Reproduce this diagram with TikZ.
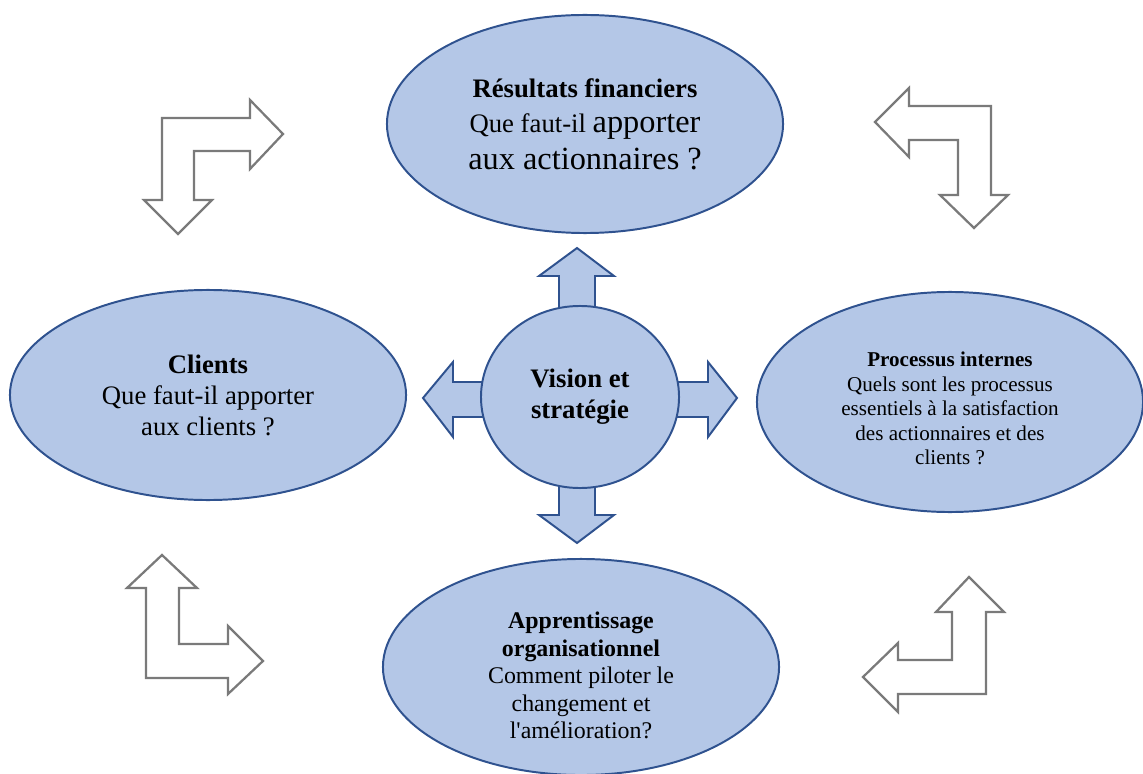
\documentclass[tikz,border=0pt]{standalone}
\usepackage{fontspec}
\setmainfont{Liberation Serif}
\usetikzlibrary{shapes.geometric}
\definecolor{bubblefill}{HTML}{B4C7E7}
\definecolor{bubbleline}{HTML}{2F528F}
\definecolor{loopgray}{HTML}{7A7A7A}
\tikzset{
  bubble/.style={ellipse, draw=bubbleline, fill=bubblefill, line width=1.4pt, inner sep=0pt, align=center, text=black},
  blockarrow/.style={draw=bubbleline, fill=bubblefill, line width=1.4pt, line join=miter},
  bentarrow/.style={draw=loopgray, fill=white, line width=1.6pt, line join=miter},
  big/.style={font=\fontsize{19}{22}\selectfont},
  small/.style={font=\fontsize{15}{17.4}\selectfont},
  mid/.style={font=\fontsize{17}{19.5}\selectfont},
}

\begin{document}
\begin{tikzpicture}[x=0.025cm,y=-0.025cm]
  \useasboundingbox (0,0) rectangle (1143,774);

  % block arrows behind the centre
  \draw[blockarrow] (559,310) -- (559,276) -- (539,276) -- (577,248) -- (614,276) -- (595,276) -- (595,310) -- cycle;
  \draw[blockarrow] (559,480) -- (559,515) -- (539,515) -- (577,543) -- (614,515) -- (595,515) -- (595,480) -- cycle;
  \draw[blockarrow] (490,382) -- (453,382) -- (453,362) -- (423,398) -- (453,437) -- (453,417) -- (490,417) -- cycle;
  \draw[blockarrow] (670,382) -- (708,382) -- (708,362) -- (737,398) -- (708,437) -- (708,417) -- (670,417) -- cycle;

  \node[bubble, big, minimum width=4.95cm, minimum height=4.55cm] (vision) at (580,397)
    {\textbf{Vision et}\\\textbf{stratégie}};

  \node[bubble, big, minimum width=9.9cm, minimum height=5.45cm] (finance) at (585,124)
    {\textbf{Résultats financiers}\\[3pt]
     Que faut-il {\fontsize{23}{26.5}\selectfont apporter}\\[4pt]
     {\fontsize{23}{26.5}\selectfont aux actionnaires ?}};

  \node[bubble, big, minimum width=9.9cm, minimum height=5.25cm] (clients) at (208,395)
    {\textbf{Clients}\\Que faut-il apporter\\aux clients ?};

  \node[bubble, small, minimum width=9.65cm, minimum height=5.5cm] (process) at (950,402)
    {\rule{0pt}{20pt}\textbf{Processus internes}\\Quels sont les processus\\essentiels à la satisfaction\\des actionnaires et des\\clients ?};

  \node[bubble, mid, minimum width=9.9cm, minimum height=5.4cm] (learning) at (581,667)
    {\rule{0pt}{24pt}\textbf{Apprentissage}\\\textbf{organisationnel}\\Comment piloter le\\changement et\\l\textquotesingle amélioration?};

  % bent arrows in the corners
  \draw[bentarrow] (283,134) -- (250,100) -- (250,118) -- (162,118) -- (162,200) -- (144,200) -- (178,234)
    -- (212,200) -- (194,200) -- (194,151) -- (250,151) -- (250,169) -- cycle;
  \draw[bentarrow] (875,122) -- (909,88) -- (909,106) -- (991,106) -- (991,195) -- (1008,195) -- (974,228)
    -- (940,195) -- (958,195) -- (958,140) -- (909,140) -- (909,157) -- cycle;
  \draw[bentarrow] (162,555) -- (197,588) -- (179,588) -- (179,644) -- (228,644) -- (228,626) -- (263,661)
    -- (228,694) -- (228,678) -- (146,678) -- (146,588) -- (127,588) -- cycle;
  \draw[bentarrow] (969,577) -- (1004,612) -- (986,612) -- (986,694) -- (898,694) -- (898,712) -- (863,677)
    -- (898,643) -- (898,660) -- (952,660) -- (952,612) -- (936,612) -- cycle;
\end{tikzpicture}
\end{document}
